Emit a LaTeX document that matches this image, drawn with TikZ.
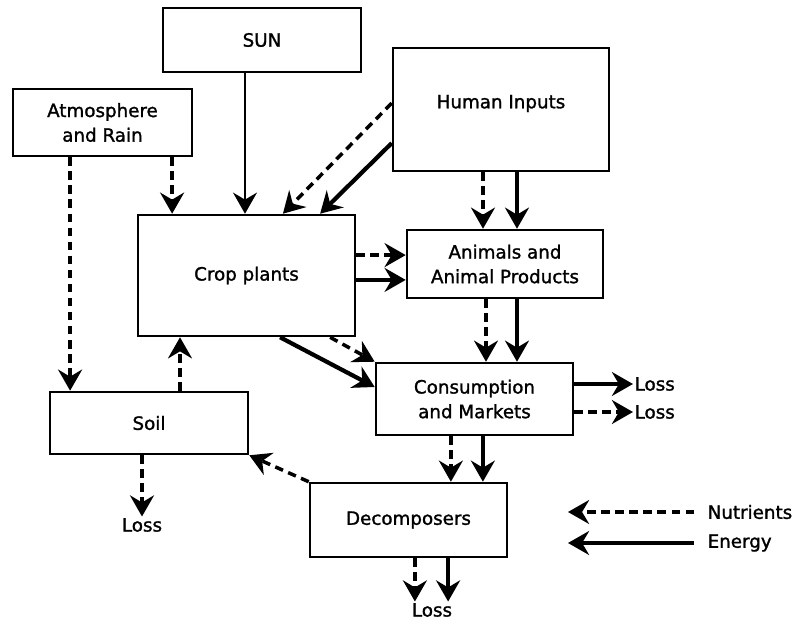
\documentclass[tikz,border=0pt]{standalone}
\usepackage{fontspec}
\setmainfont{DejaVu Sans}
\newfontfamily\boxfont{DejaVu Sans}[FakeBold=1.4]
\usetikzlibrary{arrows.meta, positioning}
\tikzset{
    box/.style={
        draw=black,
        line width=1.8pt,
        align=center,
        inner sep=2pt,
        font=\boxfont\fontsize{13}{17.5}\selectfont,
    },
    lbl/.style={
        inner sep=1pt,
        font=\boxfont\fontsize{13}{17.5}\selectfont,
    },
    energy/.style={
        -{Stealth[length=15pt,width=17pt,inset=5pt]},
        line width=2.5pt,
    },
    nutr/.style={
        energy,
        dash pattern=on 6pt off 4pt,
    },
}
\begin{document}
\begin{tikzpicture}[x=0.025cm, y=-0.025cm]
      \useasboundingbox (0,0) rectangle (798,632);

      % compartments
      \node[box, minimum width=4.95cm, minimum height=1.6cm] (sun) at (262,40) {SUN};
      \node[box, minimum width=4.475cm, minimum height=1.675cm] (atm) at (102.5,122.5) {Atmosphere\\and Rain};
      \node[box, minimum width=5.4cm, minimum height=3.075cm] (hum) at (501,109.5) {};
      \node[lbl] at ([yshift=0.15cm]hum.center) {Human Inputs};
      \node[box, minimum width=5.425cm, minimum height=3.025cm] (crop) at (246.5,275.5) {Crop plants};
      \node[box, minimum width=4.9cm, minimum height=1.7cm] (anim) at (505,264) {Animals and\\Animal Products};
      \node[box, minimum width=4.925cm, minimum height=1.8cm] (cons) at (474.5,399) {Consumption\\and Markets};
      \node[box, minimum width=4.95cm, minimum height=1.55cm] (soil) at (149,423) {Soil};
      \node[box, minimum width=4.925cm, minimum height=1.85cm] (dec) at (408.5,520) {Decomposers};

      % losses
      \node[lbl] (lossS) at (142,525) {Loss};
      \node[lbl, anchor=west] (lossE) at (633,384) {Loss};
      \node[lbl, anchor=west] (lossN) at (633,412) {Loss};
      \node[lbl] (lossD) at (432,610) {Loss};

      % legend
      \node[lbl, anchor=west] (nutrlbl) at (706,512) {Nutrients};
      \node[lbl, anchor=west] (enerlbl) at (706,543) {Energy};
      \coordinate (nutrtip) at (568,512);
      \coordinate (enertip) at (568,543);

      % flows
      \draw[energy, line width=1.8pt] ([xshift=-0.425cm]sun.south) -- ([xshift=-0.425cm]sun.south |- crop.north);
      \draw[nutr] ([xshift=1.74cm]atm.south) -- ([xshift=1.74cm]atm.south |- crop.north);
      \draw[nutr] ([xshift=-0.81cm]atm.south) -- ([xshift=-0.81cm]atm.south |- soil.north);

      \draw[nutr] ([yshift=0.16cm]hum.west) -- ([xshift=0.91cm]crop.north);
      \draw[energy, line width=3pt] ([yshift=-0.84cm]hum.west) -- ([xshift=1.84cm]crop.north);
      \draw[nutr] ([xshift=-0.45cm]hum.south) -- ([xshift=-0.45cm]hum.south |- anim.north);
      \draw[energy] ([xshift=0.4cm]hum.south) -- ([xshift=0.4cm]hum.south |- anim.north);

      \draw[nutr] ([yshift=0.51cm]crop.east) -- ([yshift=0.51cm]crop.east -| anim.west);
      \draw[energy] ([yshift=-0.11cm]crop.east) -- ([yshift=-0.11cm]crop.east -| anim.west);
      \draw[nutr] ([xshift=-0.475cm]anim.south) -- ([xshift=-0.475cm]anim.south |- cons.north);
      \draw[energy] ([xshift=0.3cm]anim.south) -- ([xshift=0.3cm]anim.south |- cons.north);

      \draw[nutr] ([xshift=2.09cm]crop.south) -- (cons.north west);
      \draw[energy, line width=3pt] ([xshift=0.84cm]crop.south) -- ([yshift=0.3cm]cons.west);

      \draw[nutr] ([xshift=0.775cm]soil.north) -- ([xshift=0.775cm]soil.north |- crop.south);
      \draw[nutr] ([xshift=-0.175cm]soil.south) -- ([xshift=-0.175cm]soil.south |- lossS.north);

      \draw[energy] ([yshift=0.375cm]cons.east) -- ([yshift=0.375cm]cons.east -| lossE.west);
      \draw[nutr] ([yshift=-0.325cm]cons.east) -- ([yshift=-0.325cm]cons.east -| lossN.west);
      \draw[nutr] ([xshift=-0.59cm]cons.south) -- ([xshift=-0.59cm]cons.south |- dec.north);
      \draw[energy] ([xshift=0.21cm]cons.south) -- ([xshift=0.21cm]cons.south |- dec.north);

      \draw[nutr] (dec.north west) -- (soil.south east);
      \draw[nutr] ([xshift=0.16cm]dec.south) -- ([xshift=0.16cm]dec.south |- lossD.north);
      \draw[energy] ([xshift=0.99cm]dec.south) -- ([xshift=0.99cm]dec.south |- lossD.north);

      \draw[nutr] ([xshift=-0.3cm]nutrlbl.west) -- (nutrtip);
      \draw[energy] ([xshift=-0.3cm]enerlbl.west) -- (enertip);

    \end{tikzpicture}
\end{document}
